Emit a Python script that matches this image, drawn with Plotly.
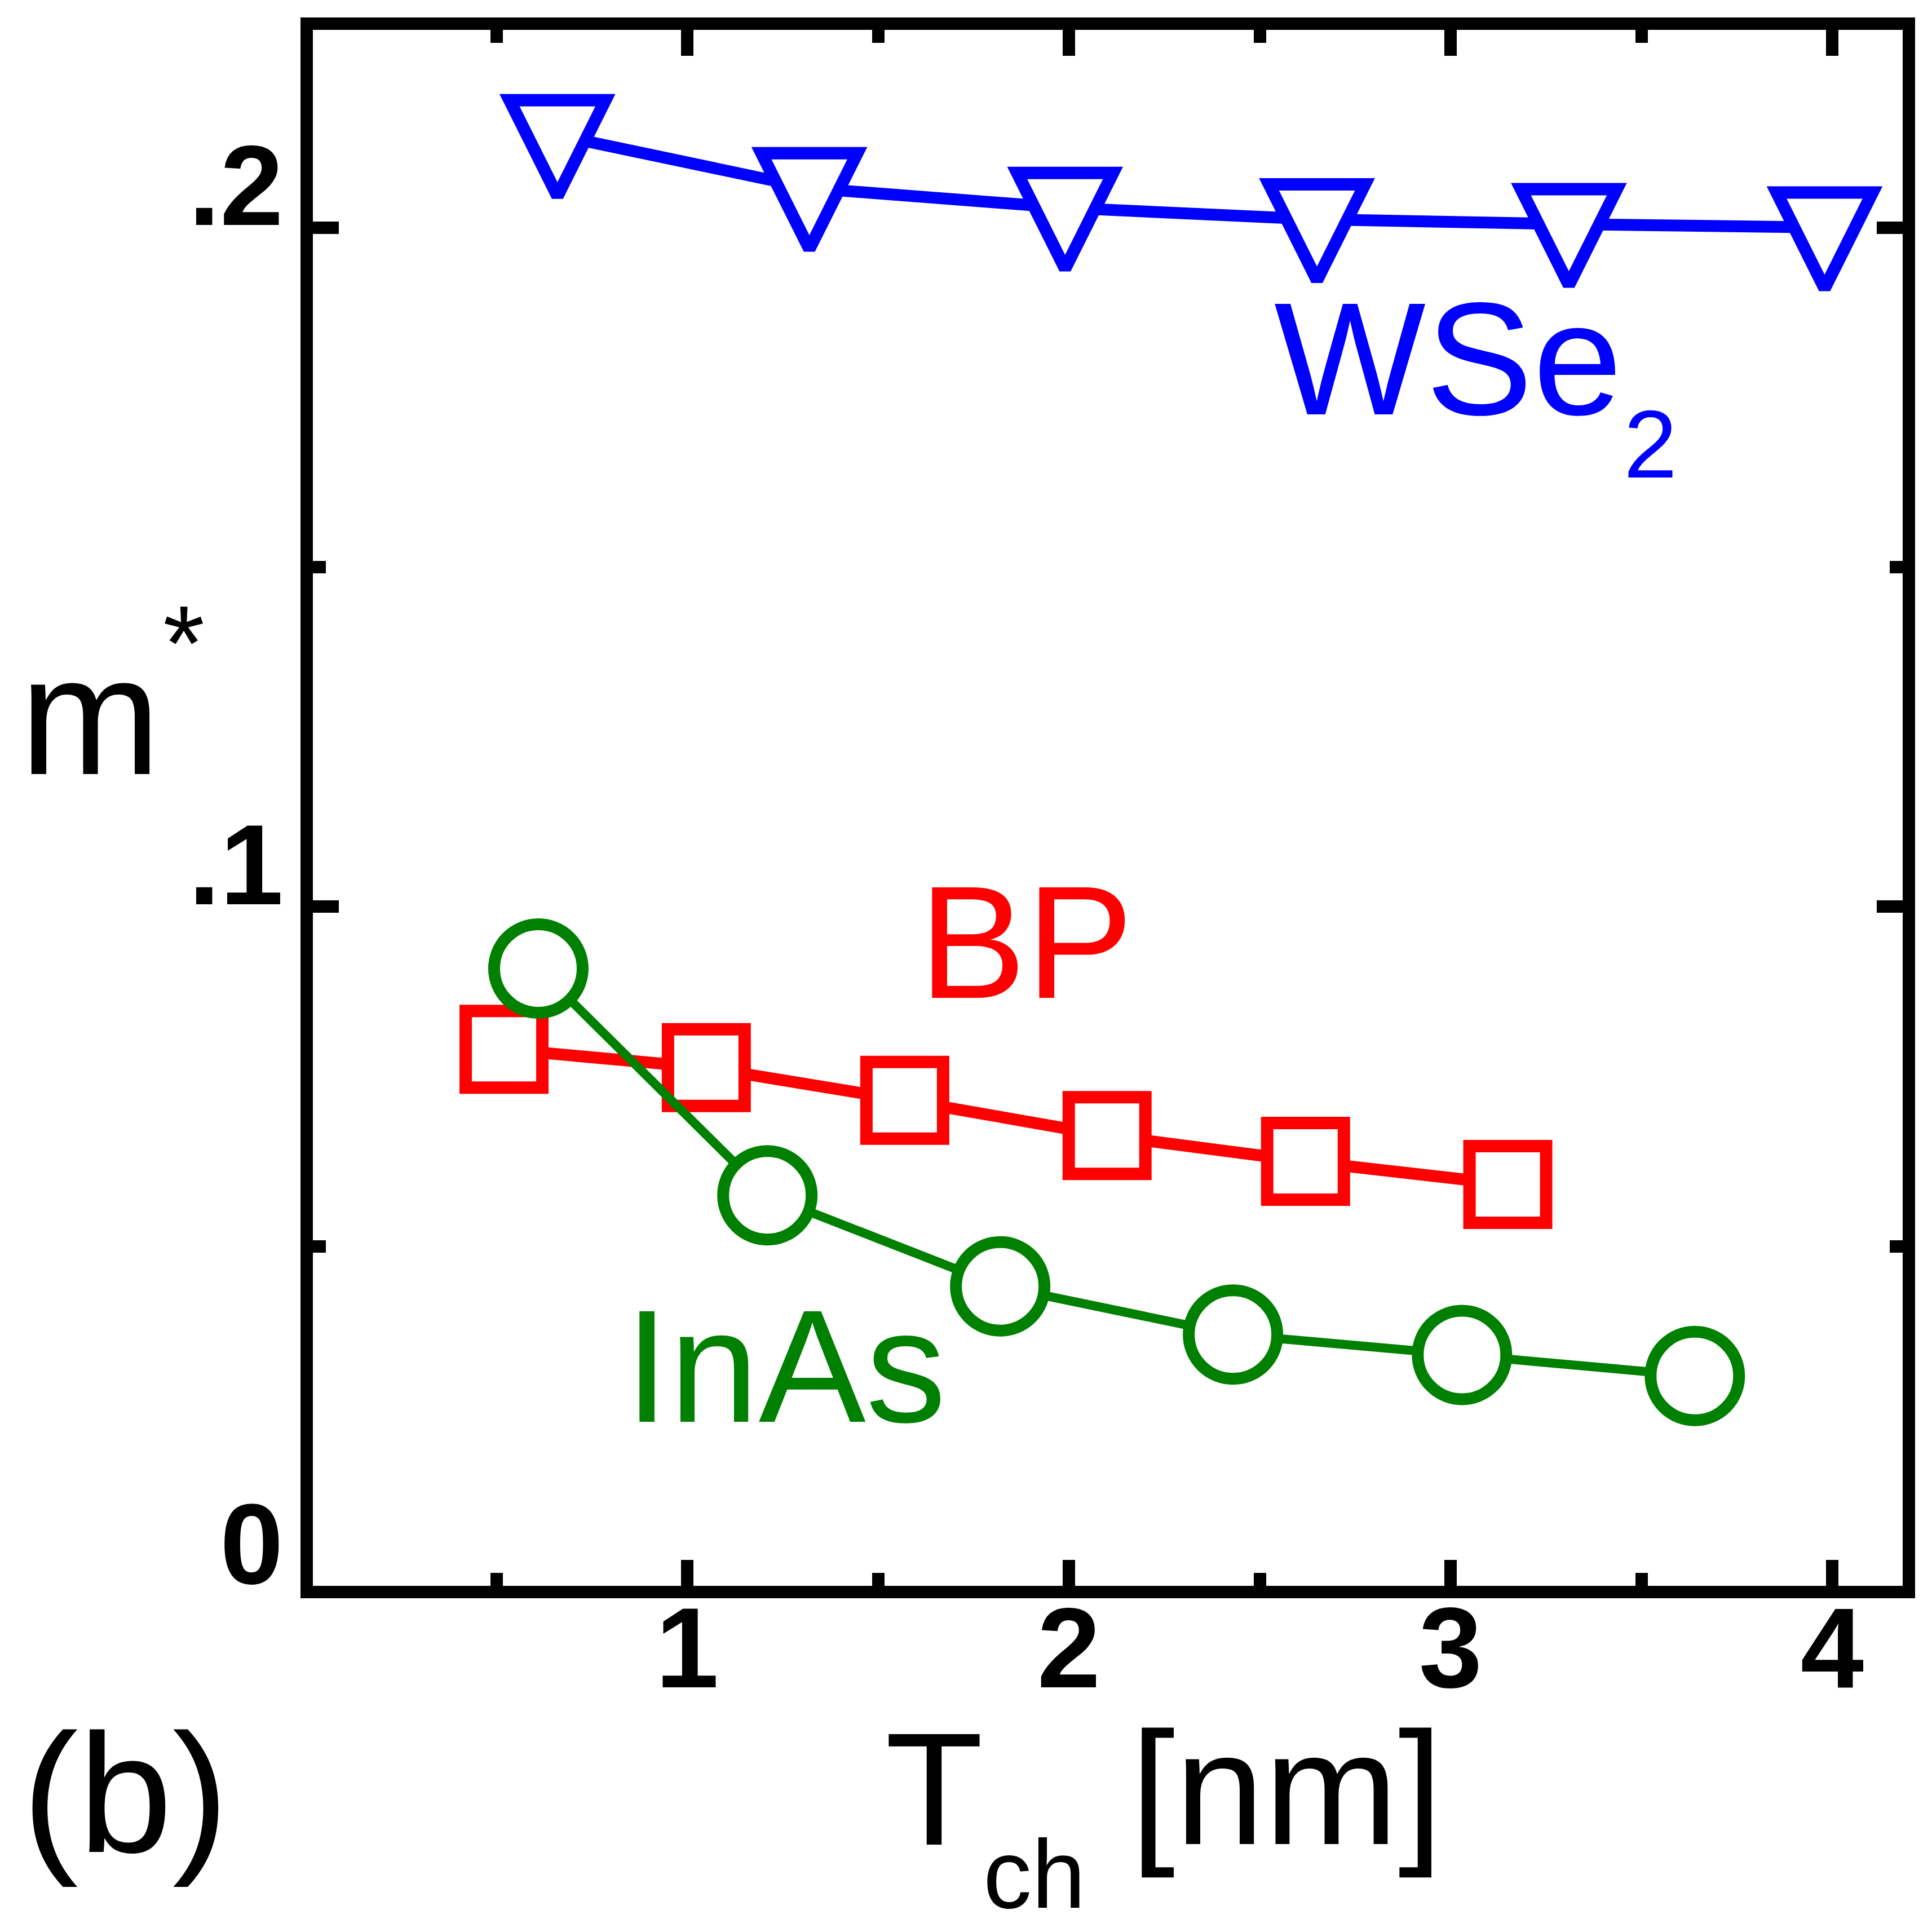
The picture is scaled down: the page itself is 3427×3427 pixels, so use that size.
import plotly.graph_objects as go

# channel thickness [nm] and effective mass for each material
wse2_x = [0.66, 1.32, 1.99, 2.65, 3.31, 3.98]
wse2_y = [0.2136, 0.2058, 0.2029, 0.2012, 0.2005, 0.2000]

bp_x = [0.52, 1.05, 1.57, 2.10, 2.62, 3.15]
bp_y = [0.0790, 0.0763, 0.0715, 0.0663, 0.0625, 0.0591]

inas_x = [0.61, 1.21, 1.82, 2.43, 3.03, 3.64]
inas_y = [0.0909, 0.0575, 0.0441, 0.0370, 0.0340, 0.0309]

x_ticks = [1, 2, 3, 4]
x_ticktext = ['1', '2', '3', '4']
y_ticks = [0, 0.1, 0.2]
y_ticktext = ['0', '.1', '.2']

W = H = 3427
L, R, T, B = 547, 60, 45, 622
FONT = 'Liberation Sans'


def px(X, Y):
    '''reference pixel -> paper coords'''
    return (X - L) / (W - L - R), (H - B - Y) / (H - T - B)


fig = go.Figure()

# arrow-down gives a taller triangle than triangle-down, standoff centres it
fig.add_trace(go.Scatter(
    x=wse2_x,
    y=wse2_y,
    name='WSe2',
    mode='lines+markers',
    line=dict(color='#0000ff', width=21, backoff=0),
    marker=dict(symbol='arrow-down', size=170, standoff=108, color='white',
                line=dict(color='#0000ff', width=22)),
))

fig.add_trace(go.Scatter(
    x=bp_x,
    y=bp_y,
    name='BP',
    mode='lines+markers',
    line=dict(color='#ff0000', width=21),
    marker=dict(symbol='square', size=136, color='white',
                line=dict(color='#ff0000', width=22)),
))

fig.add_trace(go.Scatter(
    x=inas_x,
    y=inas_y,
    name='InAs',
    mode='lines+markers',
    line=dict(color='#008000', width=16),
    marker=dict(symbol='circle', size=157, color='white',
                line=dict(color='#008000', width=21)),
))

# text labels: (text, size, left x, middle y, colour) in reference pixels
labels = [
    ('WSe', 285, 2250, 628, '#0000ff'),
    ('2', 171, 2870, 780, '#0000ff'),
    ('BP', 285, 1620, 1663, '#ff0000'),
    ('InAs', 285, 1098, 2415, '#008000'),
    ('m', 300, 25, 1261, 'black'),
    ('*', 190, 279, 1132, 'black'),
    ('T', 285, 1560, 3165, 'black'),
    ('ch', 172, 1734, 3316, 'black'),
    ('[nm]', 285, 1995, 3165, 'black'),
    ('(b)', 300, 29, 3174, 'black'),
]
for text, size, X, Y, col in labels:
    xp, yp = px(X, Y)
    fig.add_annotation(
        x=xp, y=yp, xref='paper', yref='paper',
        text=text, showarrow=False,
        xanchor='left', yanchor='middle',
        font=dict(family=FONT, size=size, color=col),
    )

axis_common = dict(
    showline=True, linewidth=22, linecolor='black', mirror='ticks',
    ticks='inside', ticklen=46, tickwidth=22, tickcolor='black',
    showgrid=False, zeroline=False,
    tickfont=dict(family=FONT, size=202, color='black', weight='bold'),
)

fig.update_xaxes(
    range=[0.0192, 4.1846],
    tickmode='array', tickvals=x_ticks, ticktext=x_ticktext,
    minor=dict(ticks='inside', tickvals=[0.5, 1.5, 2.5, 3.5], ticklen=23,
               tickwidth=22, tickcolor='black', showgrid=False),
    ticklabelstandoff=-84,
    **axis_common,
)
fig.update_yaxes(
    range=[0, 0.2291],
    tickmode='array', tickvals=y_ticks, ticktext=y_ticktext,
    minor=dict(ticks='inside', tickvals=[0.05, 0.15], ticklen=23,
               tickwidth=22, tickcolor='black', showgrid=False),
    ticklabelshift=-75,
    ticklabelstandoff=-10,
    **axis_common,
)

fig.update_layout(
    width=W, height=H,
    margin=dict(l=L, r=R, t=T, b=B, pad=0),
    paper_bgcolor='white',
    plot_bgcolor='white',
    showlegend=False,
)

fig.write_html("out.html")
